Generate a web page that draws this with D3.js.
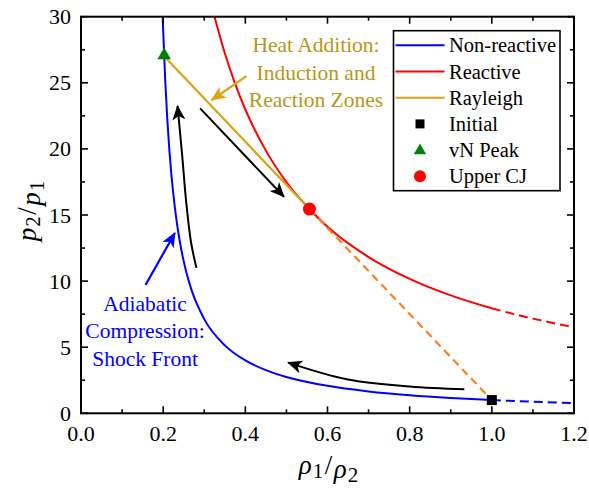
<!DOCTYPE html>
<html><head><meta charset="utf-8">
<script src="https://cdn.jsdelivr.net/npm/d3@7"></script>
<style>
body { margin: 0; background: #fff; }
svg text { font-family: "Liberation Serif", "Times New Roman", Tinos, serif !important; }
</style>
</head><body>
<svg id="hugoniot" width="589" height="491" style="font-family: 'Liberation Serif', serif"></svg>
<script>
// Non-reactive shock Hugoniot (solid part, then dashed extension past v = 1)
const nonReactiveV = [0.1989, 0.2, 0.205, 0.21, 0.215, 0.22, 0.23, 0.24, 0.25, 0.26, 0.27, 0.3, 0.35, 0.4, 0.45, 0.5, 0.6, 0.7, 0.8, 0.9, 1.0];
const nonReactiveP = [30.0, 29.0, 25.2, 22.27, 19.95, 18.06, 15.18, 13.09, 11.5, 10.25, 9.24, 7.125, 5.136, 4.0, 3.265, 2.75, 2.077, 1.656, 1.368, 1.159, 1.0];
const nonReactiveExtV = [1.0, 1.1, 1.2];
const nonReactiveExtP = [1.0, 0.875, 0.774];

// Reactive Hugoniot
const reactiveV = [0.325, 0.35, 0.375, 0.4, 0.45, 0.5, 0.556, 0.6, 0.7, 0.8, 0.9, 1.0];
const reactiveP = [30.0, 27.25, 24.94, 22.98, 19.87, 17.49, 15.45, 14.11, 11.82, 10.17, 8.92, 7.94];
const reactiveExtV = [1.0, 1.1, 1.2];
const reactiveExtP = [7.94, 7.16, 6.51];

// State points
const initialPt = [1.0, 1.0];
const vnPeakPt = [0.2025, 27.0];
const cjPt = [0.556, 15.45];

// Process arrows (v, p)
const arrowShockV = [0.281, 0.268, 0.256, 0.246, 0.235];
const arrowShockP = [11.0, 12.9, 16.0, 19.6, 23.25];
const arrowHeatV = [0.29, 0.494];
const arrowHeatP = [23.07, 16.38];
const arrowLowV = [0.933, 0.8, 0.65, 0.504];
const arrowLowP = [1.81, 2.03, 2.55, 3.83];

// Annotation pointers
const heatNoteV = [0.403, 0.318];
const heatNoteP = [25.51, 23.7];
const shockNoteV = [0.157, 0.2285];
const shockNoteP = [9.7, 13.64];

// Axes
const xTicks = [0.0, 0.2, 0.4, 0.6, 0.8, 1.0, 1.2];
const xMinor = [0.1, 0.3, 0.5, 0.7, 0.9, 1.1];
const yTicks = [0, 5, 10, 15, 20, 25, 30];
const yMinor = [2.5, 7.5, 12.5, 17.5, 22.5, 27.5];

const legendLabels = ["Non-reactive", "Reactive", "Rayleigh", "Initial", "vN Peak", "Upper CJ"];

const C = {
  blue: "#0000ff", red: "#ff0000", rayleigh: "#d9a414", rayText: "#b8961a",
  orange: "#ff8020", green: "#008000", black: "#000"
};
const FONT = "Liberation Serif";

const svg = d3.select("#hugoniot");
const pL = 81, pR = 574, pT = 16.7, pB = 413.3;
const x = d3.scaleLinear().domain([0, 1.2]).range([pL, pR]);
const y = d3.scaleLinear().domain([0, 30]).range([pB, pT]);

const zip = (a, b) => a.map((d, i) => [d, b[i]]);
const line = d3.line().x(d => x(d[0])).y(d => y(d[1])).curve(d3.curveMonotoneX);
const straight = d3.line().x(d => x(d[0])).y(d => y(d[1]));
const smooth = d3.line().x(d => x(d[0])).y(d => y(d[1])).curve(d3.curveCatmullRom);

const defs = svg.append("defs");
function marker(id, color) {
  defs.append("marker").attr("id", id).attr("markerUnits", "userSpaceOnUse")
    .attr("viewBox", "-16 -8 18 16").attr("refX", 0).attr("refY", 0)
    .attr("markerWidth", 18).attr("markerHeight", 16).attr("orient", "auto")
    .append("path").attr("d", "M1,0 L-14,-6.5 L-10,0 L-14,6.5 Z").attr("fill", color);
}
marker("ah-black", C.black);
marker("ah-gold", C.rayleigh);
marker("ah-blue", C.blue);

svg.append("clipPath").attr("id", "plotclip").append("rect")
  .attr("x", pL).attr("y", pT).attr("width", pR - pL).attr("height", pB - pT);
const plot = svg.append("g").attr("clip-path", "url(#plotclip)");

// Hugoniot curves
plot.append("path").attr("d", line(zip(nonReactiveV, nonReactiveP)))
  .attr("fill", "none").attr("stroke", C.blue).attr("stroke-width", 2);
plot.append("path").attr("d", line(zip(nonReactiveExtV, nonReactiveExtP)))
  .attr("fill", "none").attr("stroke", C.blue).attr("stroke-width", 2).attr("stroke-dasharray", "9,5");
plot.append("path").attr("d", line(zip(reactiveV, reactiveP)))
  .attr("fill", "none").attr("stroke", C.red).attr("stroke-width", 2);
plot.append("path").attr("d", line(zip(reactiveExtV, reactiveExtP)))
  .attr("fill", "none").attr("stroke", C.red).attr("stroke-width", 2).attr("stroke-dasharray", "9,5");

// Rayleigh line
plot.append("path").attr("d", straight([cjPt, initialPt]))
  .attr("fill", "none").attr("stroke", C.orange).attr("stroke-width", 2.2).attr("stroke-dasharray", "8,5");
plot.append("path").attr("d", straight([vnPeakPt, cjPt]))
  .attr("fill", "none").attr("stroke", C.rayleigh).attr("stroke-width", 2.2);

// Process arrows
[[arrowShockV, arrowShockP], [arrowHeatV, arrowHeatP], [arrowLowV, arrowLowP]].forEach(([v, p]) => {
  svg.append("path").attr("d", smooth(zip(v, p))).attr("fill", "none")
    .attr("stroke", C.black).attr("stroke-width", 2).attr("marker-end", "url(#ah-black)");
});
svg.append("path").attr("d", straight(zip(heatNoteV, heatNoteP))).attr("fill", "none")
  .attr("stroke", C.rayleigh).attr("stroke-width", 2.2).attr("marker-end", "url(#ah-gold)");
svg.append("path").attr("d", straight(zip(shockNoteV, shockNoteP))).attr("fill", "none")
  .attr("stroke", C.blue).attr("stroke-width", 2.2).attr("marker-end", "url(#ah-blue)");

// State markers
const sq = 10;
svg.append("rect").attr("x", x(initialPt[0]) - sq / 2).attr("y", y(initialPt[1]) - sq / 2)
  .attr("width", sq).attr("height", sq).attr("fill", C.black);
const tri = d3.symbol().type(d3.symbolTriangle).size(80);
svg.append("path").attr("d", tri()).attr("transform", `translate(${x(vnPeakPt[0])},${y(vnPeakPt[1]) - 1})`)
  .attr("fill", C.green);
svg.append("circle").attr("cx", x(cjPt[0])).attr("cy", y(cjPt[1])).attr("r", 6.5).attr("fill", C.red);

// Annotation text
const heatLines = ["Heat Addition:", "Induction and", "Reaction Zones"];
heatLines.forEach((t, i) => {
  svg.append("text").attr("x", x(0.572)).attr("y", 52.3 + i * 27.2)
    .attr("text-anchor", "middle").style("font-family", FONT).attr("font-size", 21.5)
    .attr("fill", C.rayText).text(t);
});
const shockLines = ["Adiabatic", "Compression:", "Shock Front"];
shockLines.forEach((t, i) => {
  svg.append("text").attr("x", x(0.156)).attr("y", 310.7 + i * 27.7)
    .attr("text-anchor", "middle").style("font-family", FONT).attr("font-size", 21.5)
    .attr("fill", C.blue).text(t);
});

// Frame, ticks (inward on all sides)
const axisG = svg.append("g");
axisG.append("rect").attr("x", pL).attr("y", pT).attr("width", pR - pL).attr("height", pB - pT)
  .attr("fill", "none").attr("stroke", C.black).attr("stroke-width", 2);
const tick = (x1, y1, x2, y2) => axisG.append("line").attr("x1", x1).attr("y1", y1).attr("x2", x2).attr("y2", y2)
  .attr("stroke", C.black).attr("stroke-width", 1.6);
xTicks.forEach(v => { tick(x(v), pB, x(v), pB - 7); tick(x(v), pT, x(v), pT + 7); });
xMinor.forEach(v => { tick(x(v), pB, x(v), pB - 4); tick(x(v), pT, x(v), pT + 4); });
yTicks.forEach(v => { tick(pL, y(v), pL + 7, y(v)); tick(pR, y(v), pR - 7, y(v)); });
yMinor.forEach(v => { tick(pL, y(v), pL + 4, y(v)); tick(pR, y(v), pR - 4, y(v)); });

xTicks.forEach(v => {
  axisG.append("text").attr("x", x(v)).attr("y", 441).attr("text-anchor", "middle")
    .style("font-family", FONT).attr("font-size", 22).text(d3.format(".1f")(v));
});
yTicks.forEach(v => {
  axisG.append("text").attr("x", 71).attr("y", y(v) + 7.5).attr("text-anchor", "end")
    .style("font-family", FONT).attr("font-size", 22).text(v);
});

// Axis titles: italic symbol, subscript index, slash
function mathLabel(g, parts) {
  const t = g.append("text").style("font-family", FONT).attr("text-anchor", "middle");
  parts.forEach(([s, kind]) => {
    const ts = t.append("tspan").text(s);
    if (kind === "it") ts.attr("font-style", "italic").attr("font-size", 27).attr("dx", 1).attr("dy", -4);
    if (kind === "sub") ts.attr("font-size", 21).attr("dx", 1).attr("dy", 4);
    if (kind === "slash") ts.attr("font-size", 27).attr("dx", 1.5).attr("dy", -4);
    if (kind === "it2") ts.attr("font-style", "italic").attr("font-size", 27).attr("dx", 1.5).attr("dy", 4);
  });
  return t;
}
const xl = svg.append("g").attr("transform", `translate(${(pL + pR) / 2},478)`);
mathLabel(xl, [["ρ", "it"], ["1", "sub"], ["/", "slash"], ["ρ", "it2"], ["2", "sub"]]);
const yl = svg.append("g").attr("transform", `translate(40,212) rotate(-90)`);
mathLabel(yl, [["p", "it"], ["2", "sub"], ["/", "slash"], ["p", "it2"], ["1", "sub"]]);

// Legend
const lg = svg.append("g");
lg.append("rect").attr("x", 393.5).attr("y", 30.7).attr("width", 166.5).attr("height", 160)
  .attr("fill", "#fff").attr("stroke", C.black).attr("stroke-width", 1.6);
const rowY = i => 45.3 + i * 26.2;
[C.blue, C.red, C.rayleigh].forEach((c, i) => {
  lg.append("line").attr("x1", 395.5).attr("x2", 444.5).attr("y1", rowY(i)).attr("y2", rowY(i))
    .attr("stroke", c).attr("stroke-width", 2);
});
lg.append("rect").attr("x", 415.5).attr("y", rowY(3) - 4.5).attr("width", 9).attr("height", 9).attr("fill", C.black);
lg.append("path").attr("d", d3.symbol().type(d3.symbolTriangle).size(65)())
  .attr("transform", `translate(420,${rowY(4) + 0.5})`).attr("fill", C.green);
lg.append("circle").attr("cx", 420).attr("cy", rowY(5)).attr("r", 6).attr("fill", C.red);
legendLabels.forEach((t, i) => {
  lg.append("text").attr("x", 449).attr("y", rowY(i) + 7).style("font-family", FONT)
    .attr("font-size", 20.5).text(t);
});
</script>
</body></html>
